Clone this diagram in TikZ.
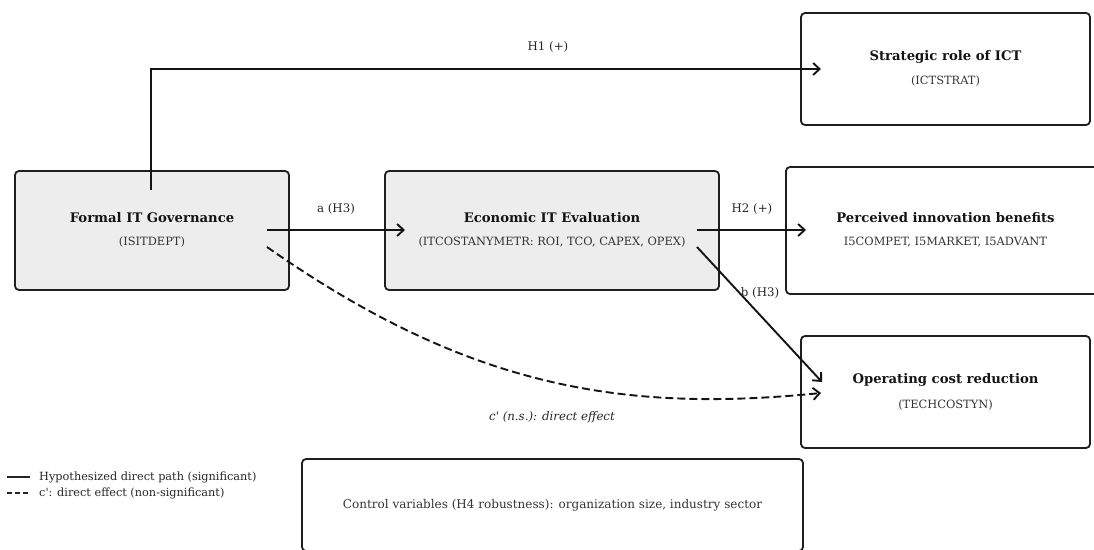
\documentclass[tikz,border=0pt]{standalone}
\usepackage{fontspec}
\setmainfont{DejaVu Serif}[Ligatures=TeXOff]
\usetikzlibrary{arrows.meta}
\begin{document}
\begin{tikzpicture}[x=1pt,y=-1pt,
  box/.style={draw=black!88, line width=1.8pt, rounded corners=4pt, align=center, inner sep=0pt},
  filled/.style={fill=black!7},
  ttl/.style={font=\fontsize{13.2}{15}\selectfont\bfseries, text=black!92},
  sub/.style={font=\fontsize{11.4}{14}\selectfont, text=black!80},
  ctl/.style={font=\fontsize{12}{14}\selectfont, text=black!80},
  conn/.style={line width=1.9pt, black!92, -{Straight Barb[length=6.5pt,width=12pt,line width=1.9pt]}},
  lbl/.style={font=\fontsize{11.8}{14}\selectfont, text=black!85},
  leg/.style={font=\fontsize{11.3}{13}\selectfont, text=black!85, anchor=west, inner sep=0pt},
  dashline/.style={dash pattern=on 8pt off 4pt},
]
\useasboundingbox (0,0) rectangle (1094,549);

% boxes
\node[box, filled, minimum width=274pt, minimum height=119pt] (gov) at (152,230.5) {};
\node[box, filled, minimum width=334pt, minimum height=119pt] (eval) at (552,230.5) {};
\node[box, minimum width=289pt, minimum height=112pt] (strat) at (945.5,69) {};
\node[box, minimum width=312pt, minimum height=127pt] (innov) at (942,230.5) {};
\node[box, minimum width=289pt, minimum height=112pt] (cost) at (945.5,392) {};
\node[box, minimum width=501pt, minimum height=92pt] (ctrl) at (552.5,505) {};

% box texts
\node[ttl] (govT) at (152,218) {Formal IT Governance};
\node[sub] (govS) at (152,242) {(ISITDEPT)};
\node[ttl] (evalT) at (552,218) {Economic IT Evaluation};
\node[sub] (evalS) at (552,242) {(ITCOSTANYMETR: ROI, TCO, CAPEX, OPEX)};
\node[ttl] (stratT) at (945.5,57) {Strategic role of ICT};
\node[sub] (stratS) at (945.5,81) {(ICTSTRAT)};
\node[ttl] (innovT) at (945.5,218) {Perceived innovation benefits};
\node[sub] (innovS) at (945.5,242) {I5COMPET, I5MARKET, I5ADVANT};
\node[ttl] (costT) at (945.5,380) {Operating cost reduction};
\node[sub] (costS) at (945.5,405) {(TECHCOSTYN)};
\node[ctl] (ctrlT) at (552.5,505) {Control variables (H4 robustness): organization size, industry sector};

% connector endpoints
\coordinate (h1s) at (151,190);
\coordinate (h1c) at (151,69);
\coordinate (h1e) at (821,69);
\coordinate (as) at (267,230);
\coordinate (ae) at (405,230);
\coordinate (h2s) at (697,230);
\coordinate (h2e) at (806,230);
\coordinate (bs) at (697,247);
\coordinate (be) at (822,382);
\coordinate (cs) at (267,247);
\coordinate (ce) at (821,393);

% connectors
\draw[conn] (h1s) -- (h1c) -- (h1e);
\draw[conn] (as) -- (ae);
\draw[conn] (h2s) -- (h2e);
\draw[conn] (bs) -- (be);
\draw[conn, dashline] (cs) .. controls (467,387) and (621,413) .. (ce);

% labels
\node[lbl] (lh1) at (548,47) {H1 (+)};
\node[lbl] (la) at (336,209) {a (H3)};
\node[lbl] (lh2) at (752,209) {H2 (+)};
\node[lbl] (lb) at (760,293) {b (H3)};
\node[lbl, font=\fontsize{11.8}{14}\selectfont\itshape] (lc) at (552,417) {c' (n.s.): direct effect};

% legend
\coordinate (l1a) at (7,477);
\coordinate (l1b) at (30,477);
\coordinate (l2a) at (7,493);
\coordinate (l2b) at (30,493);
\draw[line width=1.9pt, black!85] (l1a) -- (l1b);
\draw[line width=1.9pt, black!85, dash pattern=on 5pt off 3pt] (l2a) -- (l2b);
\node[leg] (leg1) at (39,477) {Hypothesized direct path (significant)};
\node[leg] (leg2) at (39,493) {c': direct effect (non-significant)};
\end{tikzpicture}
\end{document}
